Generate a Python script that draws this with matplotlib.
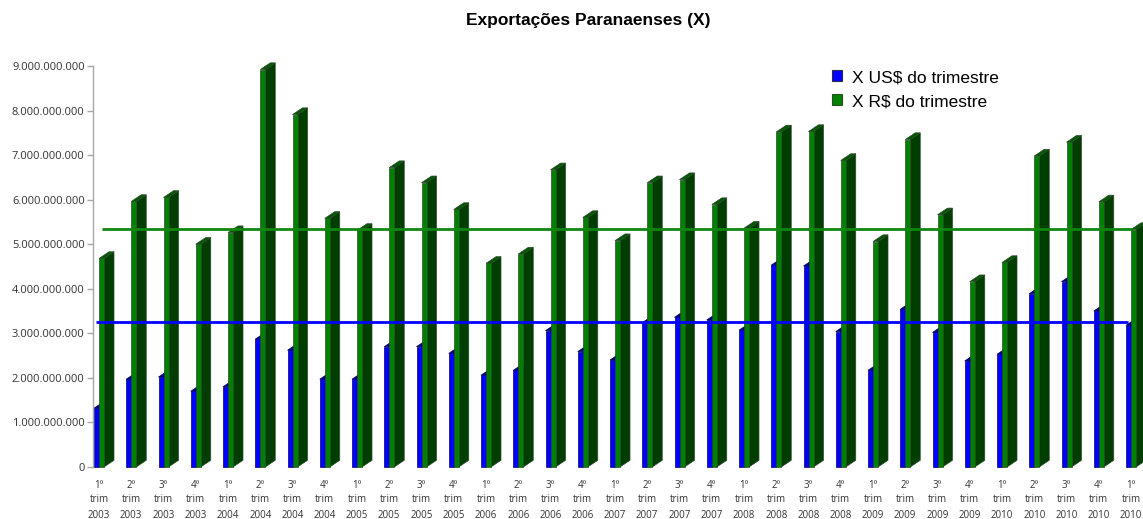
import matplotlib
matplotlib.use("Agg")
import matplotlib.pyplot as plt
from matplotlib.patches import Polygon, Patch
from matplotlib.ticker import FixedLocator, FuncFormatter

# ---- data (values in billions of currency units) ----
quarters = ["1º", "2º", "3º", "4º"] * 8 + ["1º"]
years = [str(y) for y in range(2003, 2011) for _ in range(4)] + ["2010"]
categories = [f"{q}\ntrim\n{y}" for q, y in zip(quarters, years)]

usd_values = [1.32, 1.97, 2.02, 1.70, 1.80, 2.87, 2.62, 1.97,
              1.97, 2.70, 2.70, 2.55, 2.06, 2.17, 3.06, 2.59,
              2.40, 3.24, 3.36, 3.30, 3.07, 4.53, 4.51, 3.04,
              2.17, 3.54, 3.02, 2.38, 2.53, 3.89, 4.16, 3.50, 3.18]
brl_values = [4.68, 5.96, 6.05, 5.00, 5.26, 8.92, 7.91, 5.58,
              5.31, 6.72, 6.38, 5.78, 4.57, 4.78, 6.67, 5.60,
              5.08, 6.38, 6.45, 5.89, 5.36, 7.52, 7.53, 6.88,
              5.06, 7.35, 5.66, 4.16, 4.59, 6.98, 7.29, 5.95, 5.33]
usd_ref_line = 3.25
brl_ref_line = 5.35

scale = 1e9
series_labels = ["X US$ do trimestre", "X R$ do trimestre"]
title = "Exportações Paranaenses (X)"

# ---- figure ----
W, H = 1143, 519
fig = plt.figure(figsize=(W / 100, H / 100), dpi=100)
ax = fig.add_axes([93 / W, 52 / H, 1 - 93 / W, 401 / H])

n = len(categories)
px_per_cat = 32.25
bw = 5 / px_per_cat           # bar front width (data units)
ddx = 10 / px_per_cat         # 3D depth offset x
ddy = 6.7 * scale / 44.6      # 3D depth offset y


def box(x0, x1, h, front, side, top, edge):
    pts_side = [(x1, 0), (x1 + ddx, ddy), (x1 + ddx, h + ddy), (x1, h)]
    pts_top = [(x0, h), (x1, h), (x1 + ddx, h + ddy), (x0 + ddx, h + ddy)]
    pts_front = [(x0, 0), (x1, 0), (x1, h), (x0, h)]
    for pts, col in ((pts_side, side), (pts_top, top), (pts_front, front)):
        ax.add_patch(Polygon(pts, closed=True, facecolor=col,
                             edgecolor=edge, linewidth=0.5,
                             clip_on=False, zorder=2))


for i in range(n):
    b = usd_values[i] * scale
    g = brl_values[i] * scale
    box(i - bw, i, b, "#0000ff", "#00005a", "#00008b", "#00006a")
    box(i, i + bw, g, "#008000", "#003d00", "#005800", "#2b4a2b")

ax.plot([0 - 0.08, n - 1 - 0.08], [usd_ref_line * scale] * 2,
        color="#0000ff", linewidth=2.0, zorder=3, solid_capstyle="butt")
ax.plot([0 + 0.1, n - 1 + 0.05], [brl_ref_line * scale] * 2,
        color="#0f870f", linewidth=2.0, zorder=3, solid_capstyle="butt")

ax.set_xlim(-6 / px_per_cat, n - 1 + 12 / px_per_cat)
ax.set_ylim(0, 9 * scale)

ax.yaxis.set_major_locator(FixedLocator([k * scale for k in range(10)]))
ax.yaxis.set_major_formatter(FuncFormatter(
    lambda v, p: f"{int(round(v)):,}".replace(",", ".")))
ax.set_xticks(range(n))
ax.set_xticklabels(categories, fontfamily="Open Sans", fontsize=7,
                   linespacing=1.5, color="#333333")
for lab in ax.get_yticklabels():
    lab.set_fontfamily("Open Sans")
    lab.set_fontsize(8)
    lab.set_color("#333333")

for s in ("top", "right", "bottom"):
    ax.spines[s].set_visible(False)
ax.spines["left"].set_color("#a8a8a8")
ax.spines["left"].set_linewidth(1.0)
ax.tick_params(axis="y", length=4, width=1, color="#a8a8a8", pad=2)
ax.tick_params(axis="x", length=0, pad=9)
ax.set_facecolor("none")

handles = [Patch(facecolor="#0000ff", edgecolor="#2b2b4a", linewidth=0.8),
           Patch(facecolor="#008000", edgecolor="#2b4a2b", linewidth=0.8)]
fig.legend(handles, series_labels, loc="upper left",
           bbox_to_anchor=(832 / W, 1 - 70 / H), frameon=False,
           prop={"family": "Liberation Sans", "size": 12.5},
           handlelength=0.58, handleheight=0.58, handletextpad=0.57,
           labelspacing=0.52, borderpad=0, borderaxespad=0)

fig.text(588.5 / W, 1 - 20 / H, title, ha="center", va="center",
         fontfamily="Liberation Sans", fontweight="bold", fontsize=12.5)

fig.savefig("out.png", dpi=100)
